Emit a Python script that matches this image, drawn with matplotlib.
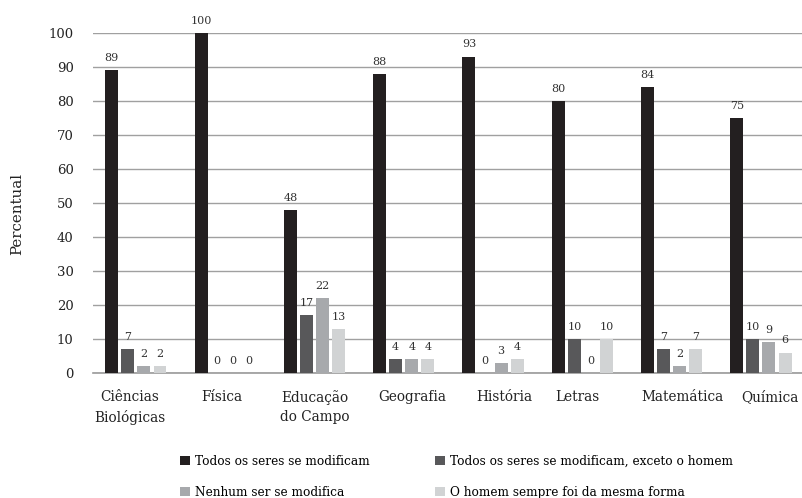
import matplotlib
matplotlib.use("Agg")
import matplotlib.pyplot as plt
import numpy as np

# dados
cursos = ["Ciências\nBiológicas", "Física", "Educação\ndo Campo", "Geografia",
          "História", "Letras", "Matemática", "Química"]
series = ["Todos os seres se modificam",
          "Todos os seres se modificam, exceto o homem",
          "Nenhum ser se modifica",
          "O homem sempre foi da mesma forma"]
todos = [89, 100, 48, 88, 93, 80, 84, 75]
exceto_homem = [7, 0, 17, 4, 0, 10, 7, 10]
nenhum = [2, 0, 22, 4, 3, 0, 2, 9]
homem_mesma = [2, 0, 13, 4, 4, 10, 7, 6]
valores = [todos, exceto_homem, nenhum, homem_mesma]
cores = ["#231f20", "#58585a", "#a7a9ac", "#d1d3d4"]

# deslocamento dos rótulos do eixo x (o original não centraliza)
desloc_rotulo = [-0.07, -0.035, 0.0, 0.09, 0.13, -0.05, 0.12, 0.10]

plt.rcParams['font.family'] = ['DejaVu Serif']

fig = plt.figure(figsize=(8.02, 4.98), dpi=100)
ax = fig.add_axes([0.116, 0.251, 0.884, 0.683])

x = np.arange(len(cursos))
larg = 0.145
passo = 0.18
barras = []
for i, (v, c) in enumerate(zip(valores, cores)):
    pos = x + (i - 1.5) * passo
    b = ax.bar(pos, v, width=larg, color=c, zorder=3)
    barras.append(b)
    for p, val in zip(pos, v):
        ax.text(p, val + 2.7, str(val), ha='center', va='baseline',
                fontsize=8, color='#333333', clip_on=False)

ax.set_ylim(0, 100)
ax.set_xlim(-0.48, 7.46)
ax.set_yticks(range(0, 101, 10))
ax.tick_params(axis='y', length=0, labelsize=9.5, pad=14, labelcolor='#222222')
ax.tick_params(axis='x', length=0, pad=12, labelcolor='#222222')
ax.set_xticks(x + np.array(desloc_rotulo))
ax.set_xticklabels(cursos, fontsize=9.8, linespacing=1.5)
ax.yaxis.grid(True, color='#a0a0a0', linewidth=1, zorder=0)
for s in ['top', 'right', 'left']:
    ax.spines[s].set_visible(False)
ax.spines['bottom'].set_color('#9a9a9a')
ax.spines['bottom'].set_linewidth(1.2)
fig.text(0.021, 0.570, "Percentual", rotation=90, ha='center', va='center',
         fontsize=10.8, color='#222222')

ordem = [0, 2, 1, 3]
fig.legend([barras[k] for k in ordem], [series[k] for k in ordem],
           loc='center', bbox_to_anchor=(0.569, 0.043), ncol=2, frameon=False,
           fontsize=8.7, handlelength=0.83, handleheight=0.83, handletextpad=0.4,
           columnspacing=5.45, labelspacing=1.5)

plt.savefig("out.png", dpi=100)
